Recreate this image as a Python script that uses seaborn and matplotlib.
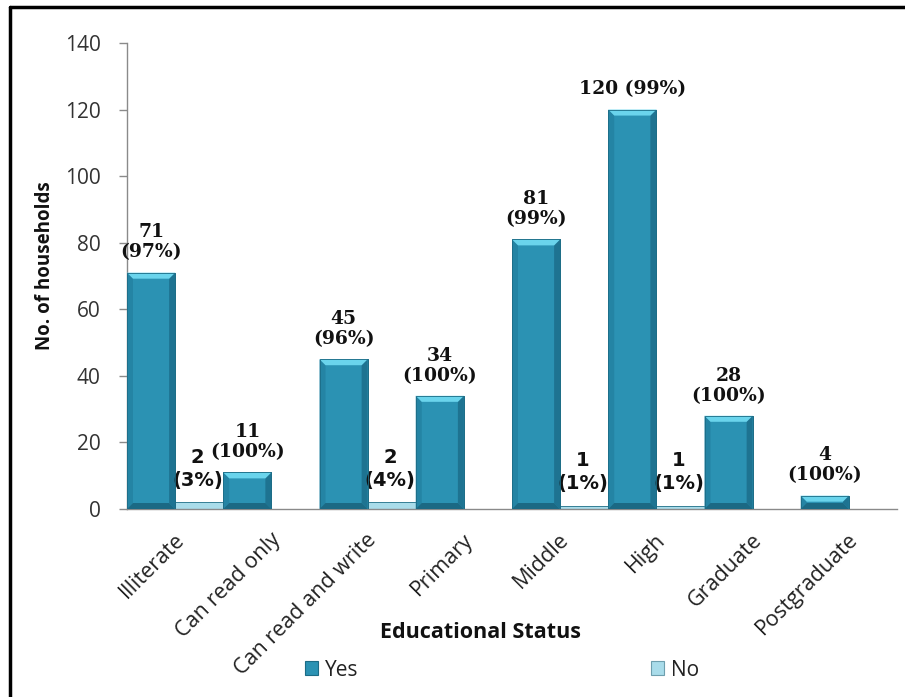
import numpy as np
import pandas as pd
import matplotlib
matplotlib.use("Agg")
import matplotlib.pyplot as plt
import matplotlib.transforms as mtransforms
from matplotlib.patches import Polygon, Rectangle
from matplotlib.lines import Line2D
import seaborn as sns

# Households by educational status of the respondent
categories = ["Illiterate", "Can read only", "Can read and write", "Primary",
              "Middle", "High", "Graduate", "Postgraduate"]
yes_counts = [71, 11, 45, 34, 81, 120, 28, 4]
yes_pct = [97, 100, 96, 100, 99, 99, 100, 100]
no_counts = [2, 0, 2, 0, 1, 1, 0, 0]
no_pct = [3, 0, 4, 0, 1, 1, 0, 0]
y_ticks = [0, 20, 40, 60, 80, 100, 120, 140]

df = pd.DataFrame({
    "status": ["Yes"] * len(categories) + ["No"] * len(categories),
    "category": categories * 2,
    "count": yes_counts + no_counts,
})

sns.set_theme(style="white")
plt.rcParams["font.family"] = ["Open Sans", "DejaVu Sans"]

YES_COL = "#2B92B3"
NO_COL = "#A9DCEA"

fig = plt.figure(figsize=(9.05, 6.97), dpi=100)
ax = fig.add_axes([127 / 905, 1 - 509 / 697, 770 / 905, 466 / 697])

sns.barplot(data=df, x="category", y="count", hue="status",
            order=categories, hue_order=["Yes", "No"],
            palette={"Yes": YES_COL, "No": NO_COL}, saturation=1,
            width=1.0, gap=0, edgecolor="#1C6C86", linewidth=0.6,
            legend=False, ax=ax)

ax.set_xlim(-0.5, len(categories) - 0.5)
ax.set_ylim(0, 140)
ax.set_yticks(y_ticks)

# pixel -> data unit conversion for the bevel decoration
ax_w_px = 770.0
ax_h_px = 466.0
dx = (ax.get_xlim()[1] - ax.get_xlim()[0]) / ax_w_px
dy = (ax.get_ylim()[1] - ax.get_ylim()[0]) / ax_h_px

# bevelled look on the "Yes" bars: light top facet, darker side strips
bev = 6
for bar in ax.containers[0]:
    x0, w, h = bar.get_x(), bar.get_width(), bar.get_height()
    if h <= 0:
        continue
    bx, by = bev * dx, min(bev * dy, h / 2)
    ax.add_patch(Polygon([(x0, 0), (x0 + bx, by), (x0 + bx, h - by), (x0, h)],
                         closed=True, facecolor="#2484A4", edgecolor="none", zorder=3))
    ax.add_patch(Polygon([(x0 + w, 0), (x0 + w - bx, by), (x0 + w - bx, h - by), (x0 + w, h)],
                         closed=True, facecolor="#1E7391", edgecolor="none", zorder=3))
    ax.add_patch(Polygon([(x0, h), (x0 + w, h), (x0 + w - bx, h - by), (x0 + bx, h - by)],
                         closed=True, facecolor="#6AD4EC", edgecolor="none", zorder=3))
    ax.add_patch(Polygon([(x0, 0), (x0 + w, 0), (x0 + w - bx, by), (x0 + bx, by)],
                         closed=True, facecolor="#1B6984", edgecolor="none", zorder=3))
    ax.add_patch(Rectangle((x0, 0), w, h, facecolor="none", edgecolor="#1C6C86",
                           linewidth=0.6, zorder=4))

# value labels
for i, bar in enumerate(ax.containers[0]):
    cx = bar.get_x() + bar.get_width() / 2
    v = yes_counts[i]
    txt = f"{v} ({yes_pct[i]}%)" if v >= 100 else f"{v}\n({yes_pct[i]}%)"
    ax.annotate(txt, (cx, v), xytext=(0, 8), textcoords="offset points",
                ha="center", va="bottom", fontsize=13.5, fontweight="bold",
                family="DejaVu Serif", linespacing=1.15, color="#111111")

for i, bar in enumerate(ax.containers[1]):
    v = no_counts[i]
    if v <= 0:
        continue
    cx = bar.get_x() + bar.get_width() / 2
    ax.annotate(f"{v}\n({no_pct[i]}%)", (cx, v), xytext=(-1, 9),
                textcoords="offset points", ha="center", va="bottom",
                fontsize=14, fontweight="bold", family="DejaVu Sans",
                linespacing=1.25, color="#111111")

# axes styling
for side in ("top", "right"):
    ax.spines[side].set_visible(False)
for side in ("left", "bottom"):
    ax.spines[side].set_color("#8A8A8A")
    ax.spines[side].set_linewidth(1.0)

ax.tick_params(axis="y", which="major", left=True, length=6, width=1,
               color="#8A8A8A", pad=13, labelsize=15, labelcolor="#333333")
ax.tick_params(axis="x", which="major", bottom=False, length=0, pad=20,
               labelsize=15.5, labelcolor="#222222")

ax.set_xticks(range(len(categories)))
ax.set_xticklabels(categories, rotation=45, ha="right", va="center",
                   rotation_mode="anchor")
shift = mtransforms.ScaledTranslation(6 / 100, 0, fig.dpi_scale_trans)
for lab in ax.get_xticklabels():
    lab.set_transform(lab.get_transform() + shift)

ax.set_xlabel("Educational Status", fontsize=15.5, fontweight="bold", color="#111111")
ax.xaxis.set_label_coords((480 - 127) / 770, (509 - 633) / 466)
ax.xaxis.label.set_va("center")
ax.set_ylabel("No. of households", fontsize=13.5, fontweight="bold", color="#111111")
ax.yaxis.set_label_coords((45 - 127) / 770, (509 - 266) / 466)
ax.yaxis.label.set_va("center")

# legend along the bottom
handles = [Rectangle((0, 0), 1, 1, facecolor=YES_COL, edgecolor="#1C6C86", linewidth=0.8),
           Rectangle((0, 0), 1, 1, facecolor=NO_COL, edgecolor="#6E9FAE", linewidth=0.8)]
fig.legend(handles, ["Yes", "No"], loc="center", ncol=2,
           bbox_to_anchor=(502 / 905, 1 - 670 / 697), frameon=False,
           fontsize=15, handlelength=0.65, handleheight=0.65,
           handletextpad=0.35, columnspacing=14.0, labelcolor="#222222")

# frame lines on the left and top of the figure
fig.add_artist(Line2D([10 / 905, 10 / 905], [0, 1 - 7 / 697], transform=fig.transFigure,
                      color="black", linewidth=2.5))
fig.add_artist(Line2D([10 / 905, 1], [1 - 7 / 697, 1 - 7 / 697], transform=fig.transFigure,
                      color="black", linewidth=2.5))

fig.savefig("out.png", dpi=100)
